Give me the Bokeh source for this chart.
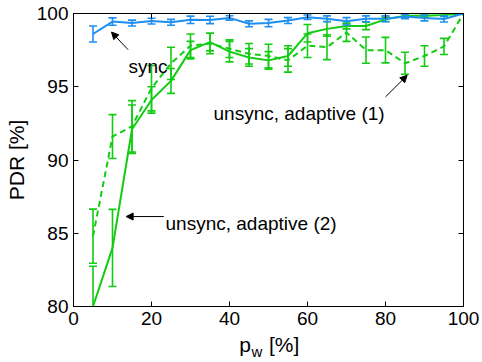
from bokeh.plotting import figure
from bokeh.models import (Range1d, LinearAxis, FixedTicker, ColumnDataSource,
                          Arrow, NormalHead, Label)
from bokeh.embed import file_html
from bokeh.resources import INLINE

# ---- data -----------------------------------------------------------------
pw = [5, 10, 15, 20, 25, 30, 35, 40, 45, 50, 55, 60, 65, 70, 75, 80, 85, 90, 95, 100]

sync = [98.6, 99.45, 99.35, 99.48, 99.4, 99.57, 99.56, 99.7, 99.3, 99.35,
        99.52, 99.75, 99.64, 99.47, 99.64, 99.64, 99.8, 99.7, 99.62, 100.0]
sync_err = [0.55, 0.25, 0.2, 0.2, 0.2, 0.25, 0.25, 0.15, 0.2, 0.25,
            0.2, 0.15, 0.2, 0.25, 0.2, 0.2, 0.15, 0.2, 0.2, 0.0]

adapt1 = [84.8, 91.6, 92.3, 94.9, 96.6, 97.8, 97.95, 97.6, 97.25, 97.1,
          96.8, 97.8, 97.7, 98.7, 97.5, 97.5, 96.6, 97.1, 97.75, 100.0]
adapt1_err = [1.85, 1.5, 1.75, 1.55, 1.1, 0.8, 0.7, 0.6, 0.7, 0.8,
              0.8, 0.8, 0.85, 0.6, 0.9, 0.87, 0.75, 0.7, 0.55, 0.0]

adapt2 = [80.0, 84.0, 92.1, 94.1, 95.4, 97.5, 98.05, 97.4, 97.0, 96.8,
          97.1, 98.65, 98.95, 99.15, 99.15, 99.6, 99.85, 99.85, 99.9, 100.0]
adapt2_err = [2.75, 2.63, 1.65, 0.9, 0.85, 0.6, 0.6, 0.7, 0.6, 0.6,
              0.7, 0.6, 0.5, 0.2, 0.25, 0.15, 0.1, 0.1, 0.1, 0.0]

x_ticks = [0, 20, 40, 60, 80, 100]
y_ticks = [80, 85, 90, 95, 100]

# x-axis title pieces: "p" with subscript "w", then "[%]"
xlabel_main = {44: "p", 54: "[%]"}
xlabel_sub = {47: "w"}

BLUE = "#1f8ef1"
GREEN = "#12cc12"
FONT = "Liberation Sans"

# ---- figure ---------------------------------------------------------------
p = figure(width=482, height=362, x_range=Range1d(0, 100), y_range=Range1d(80, 100),
           output_backend="svg", toolbar_location=None,
           min_border_left=73, min_border_right=19, min_border_top=13, min_border_bottom=55)
p.background_fill_color = "white"
p.border_fill_color = "white"
p.outline_line_color = "black"
p.xgrid.grid_line_color = None
p.ygrid.grid_line_color = None


def style_axis(ax, ticks, show_labels=True):
    ax.ticker = FixedTicker(ticks=ticks)
    ax.major_tick_in = 5
    ax.major_tick_out = 0
    ax.minor_tick_line_color = None
    ax.axis_line_color = "black"
    ax.major_tick_line_color = "black"
    ax.major_label_text_font = FONT
    ax.major_label_standoff = 5
    if show_labels:
        ax.major_label_text_font_size = "19px"
        ax.major_label_text_color = "black"
    else:
        ax.major_label_overrides = {t: "" for t in ticks}
        ax.major_label_text_color = None
        ax.major_label_text_font_size = "8px"
        ax.major_label_standoff = 0


style_axis(p.xaxis[0], x_ticks)
style_axis(p.yaxis[0], y_ticks)
p.yaxis.axis_label = "PDR [%]"
p.yaxis.axis_label_text_font = FONT
p.yaxis.axis_label_text_font_size = "21px"
p.yaxis.axis_label_text_font_style = "normal"
p.yaxis.axis_label_text_color = "black"
p.yaxis.axis_label_standoff = 6

top = LinearAxis()
style_axis(top, x_ticks, show_labels=False)
p.add_layout(top, "above")
right = LinearAxis()
style_axis(right, y_ticks, show_labels=False)
p.add_layout(right, "right")


def title_axis(labels, size, standoff):
    ax = LinearAxis(ticker=FixedTicker(ticks=list(labels.keys())),
                    major_label_overrides=labels,
                    axis_line_color=None, major_tick_line_color=None,
                    minor_tick_line_color=None, major_tick_in=0, major_tick_out=0,
                    major_label_text_font=FONT, major_label_text_font_size=size,
                    major_label_text_color="black", major_label_standoff=standoff)
    p.add_layout(ax, "below")


title_axis(xlabel_main, "21px", 5)
title_axis(xlabel_sub, "15px", -16)


def series(vals, errs, color, dash):
    src = ColumnDataSource(dict(x=pw, y=vals,
                                lo=[v - e for v, e in zip(vals, errs)],
                                hi=[v + e for v, e in zip(vals, errs)]))
    p.segment(x0="x", y0="lo", x1="x", y1="hi", source=src, line_color=color, line_width=1.6)
    p.scatter(x="x", y="lo", source=src, marker="dash", size=8, line_color=color, line_width=1.6)
    p.scatter(x="x", y="hi", source=src, marker="dash", size=8, line_color=color, line_width=1.6)
    p.line(x="x", y="y", source=src, line_color=color, line_width=2, line_dash=dash)


series(adapt1, adapt1_err, GREEN, "6 4")
series(adapt2, adapt2_err, GREEN, "solid")
series(sync, sync_err, BLUE, "solid")

# ---- annotations ----------------------------------------------------------
def label(x, y, text, size="19px"):
    p.add_layout(Label(x=x, y=y, text=text, text_font=FONT, text_font_size=size,
                       text_color="black", text_baseline="alphabetic", text_align="left"))


def arrow(x0, y0, x1, y1):
    p.add_layout(Arrow(x_start=x0, y_start=y0, x_end=x1, y_end=y1, line_width=1,
                       line_color="black",
                       end=NormalHead(size=7, fill_color="black", line_color="black", line_width=1)))


label(14.1, 96.35, "sync")
arrow(14.0, 97.53, 9.74, 98.73)
label(35.9, 93.2, "unsync, adaptive (1)")
arrow(80.0, 94.31, 85.56, 95.78)
label(23.6, 85.69, "unsync, adaptive (2)")
arrow(23.15, 86.14, 13.5, 86.14)

open("out.html", "w").write(file_html(p, INLINE))
